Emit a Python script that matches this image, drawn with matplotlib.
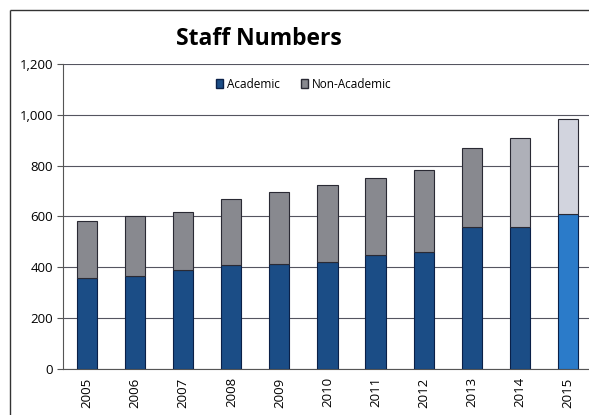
import matplotlib.pyplot as plt
from matplotlib.patches import Patch
from matplotlib.lines import Line2D
from matplotlib.ticker import FuncFormatter

years = ['2005', '2006', '2007', '2008', '2009', '2010', '2011', '2012', '2013', '2014', '2015']
academic = [358, 366, 390, 410, 414, 421, 449, 461, 559, 559, 610]
total = [583, 600, 618, 670, 697, 724, 752, 783, 870, 909, 984]
non_academic = [t - a for t, a in zip(total, academic)]

acad_colors = ['#1b4d86'] * 10 + ['#2b7bc9']
non_colors = ['#88898f'] * 9 + ['#aeb0b8', '#d2d4de']

plt.rcParams['font.family'] = ['Open Sans', 'DejaVu Sans']

fig = plt.figure(figsize=(5.89, 4.15), dpi=100)
ax = fig.add_axes([0.107, 0.111, 0.898, 0.735])

x = range(len(years))
ax.bar(x, academic, width=0.42, color=acad_colors, edgecolor='#0a2048', linewidth=0.8, zorder=3)
ax.bar(x, non_academic, width=0.42, bottom=academic, color=non_colors, edgecolor='#2a2a34', linewidth=0.8, zorder=3)

ax.set_xlim(-0.5, 10.5)
ax.set_ylim(0, 1200)
ax.set_yticks(range(0, 1201, 200))
ax.yaxis.set_major_formatter(FuncFormatter(lambda v, p: f'{int(v):,}'))
ax.set_xticks(list(x))
ax.set_xticklabels(years, rotation=90, fontsize=9.5)
ax.tick_params(axis='y', labelsize=9.5, length=4, color='#555555', pad=3)
ax.tick_params(axis='x', length=0, pad=6)
ax.grid(axis='y', color='#555560', linewidth=0.8, zorder=0)

for s in ['top', 'right']:
    ax.spines[s].set_visible(False)
ax.spines['left'].set_color('#555555')
ax.spines['bottom'].set_color('#555555')

handles = [Patch(facecolor='#1b4d86', edgecolor='#0a2048'),
           Patch(facecolor='#88898f', edgecolor='#2a2a34')]
ax.legend(handles, ['Academic', 'Non-Academic'], loc='upper center', bbox_to_anchor=(0.455, 0.99),
          ncol=2, frameon=False, fontsize=8.5, handlelength=0.6, handleheight=0.8,
          handletextpad=0.3, columnspacing=1.8)

fig.text(0.44, 0.905, 'Staff Numbers', fontsize=16.5, fontweight='bold', ha='center', va='center')

# chart area border: top and left edges only
fig.add_artist(Line2D([0.017, 1.1], [0.976, 0.976], transform=fig.transFigure,
                      color='#333333', linewidth=1.0, solid_capstyle='butt'))
fig.add_artist(Line2D([0.017, 0.017], [-0.1, 0.976], transform=fig.transFigure,
                      color='#333333', linewidth=1.0, solid_capstyle='butt'))

fig.savefig('out.png', dpi=100)
